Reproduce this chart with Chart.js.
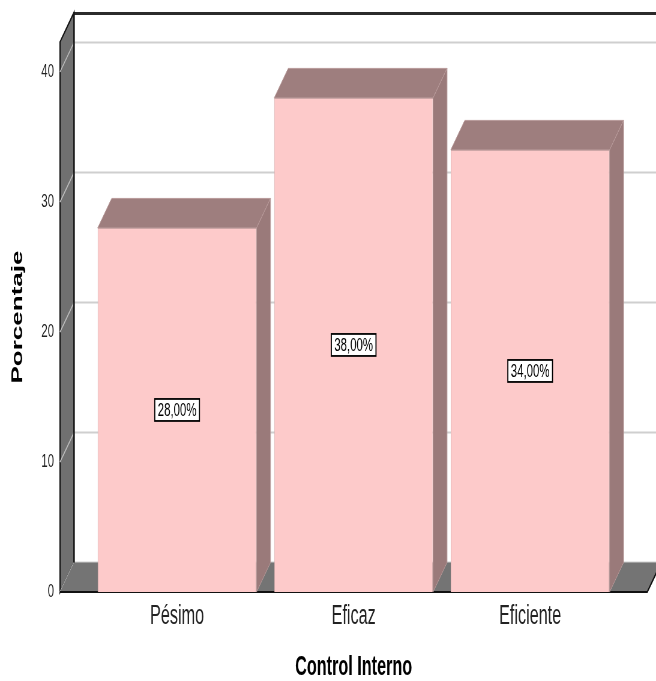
<!DOCTYPE html>
<html>
<head>
<meta charset="utf-8">
<script src="https://cdn.jsdelivr.net/npm/chart.js@4/dist/chart.umd.min.js"></script>
<style>
  html, body { margin: 0; padding: 0; background: #fff; overflow: hidden; }
  /* the chart is laid out wide and narrowed horizontally, giving its condensed look */
  #wrap { width: 1093px; height: 681px; transform: scaleX(0.60018); transform-origin: 0 0; }
</style>
</head>
<body>
<div id="wrap"><canvas id="c" width="1093" height="681"></canvas></div>
<script>
const categories = ['Pésimo', 'Eficaz', 'Eficiente'];
const percentages = [28, 38, 34];
const yTicks = [0, 10, 20, 30, 40];
const yMax = 42.3;

const FONT = "'Liberation Sans', Arial, sans-serif";
const DEPTH_X = 23.3;   // horizontal depth of the 3D extrusion
const DEPTH_Y = 29.5;   // vertical depth of the 3D extrusion
const SIDE_GAP = 48;    // distance from the category band to the wall / floor end

const fmt = v => v.toFixed(2).replace('.', ',') + '%';

const frame3d = {
  id: 'frame3d',
  beforeDatasetsDraw(chart) {
    const { ctx, chartArea: a, scales: { y } } = chart;
    const base = y.getPixelForValue(0);
    const top = y.getPixelForValue(yMax);
    const wallX = a.left - SIDE_GAP;
    const backX = wallX + DEPTH_X;
    const floorRight = a.right + SIDE_GAP;
    const W = chart.width;
    ctx.save();

    // back plane grid lines
    ctx.strokeStyle = '#cfcfcf';
    ctx.lineWidth = 2;
    yTicks.forEach(v => {
      const py = y.getPixelForValue(v) - DEPTH_Y;
      ctx.beginPath(); ctx.moveTo(backX, py); ctx.lineTo(W, py); ctx.stroke();
    });

    // top edge of the back plane
    ctx.strokeStyle = '#2b2b2b';
    ctx.lineWidth = 3;
    ctx.beginPath(); ctx.moveTo(backX, top - DEPTH_Y + 1); ctx.lineTo(W, top - DEPTH_Y + 1); ctx.stroke();

    // left wall
    ctx.beginPath();
    ctx.moveTo(wallX, top);
    ctx.lineTo(backX, top - DEPTH_Y);
    ctx.lineTo(backX, base - DEPTH_Y);
    ctx.lineTo(wallX, base);
    ctx.closePath();
    ctx.fillStyle = '#707070';
    ctx.fill();
    ctx.strokeStyle = '#111';
    ctx.lineWidth = 2;
    ctx.stroke();

    // grid lines carried across the wall
    ctx.strokeStyle = '#bdbdbd';
    ctx.lineWidth = 1.5;
    yTicks.forEach(v => {
      const py = y.getPixelForValue(v);
      ctx.beginPath(); ctx.moveTo(backX, py - DEPTH_Y); ctx.lineTo(wallX, py); ctx.stroke();
    });

    // floor
    ctx.beginPath();
    ctx.moveTo(wallX, base);
    ctx.lineTo(backX, base - DEPTH_Y);
    ctx.lineTo(floorRight + DEPTH_X, base - DEPTH_Y);
    ctx.lineTo(floorRight, base);
    ctx.closePath();
    ctx.fillStyle = '#747474';
    ctx.fill();
    ctx.strokeStyle = '#111';
    ctx.lineWidth = 2;
    ctx.beginPath();
    ctx.moveTo(wallX, base);
    ctx.lineTo(floorRight, base);
    ctx.lineTo(floorRight + DEPTH_X, base - DEPTH_Y);
    ctx.stroke();

    // back-left edge
    ctx.strokeStyle = '#1a1a1a';
    ctx.lineWidth = 2.5;
    ctx.beginPath(); ctx.moveTo(backX, top - DEPTH_Y); ctx.lineTo(backX, base - DEPTH_Y); ctx.stroke();
    ctx.restore();
  },
  afterDatasetsDraw(chart) {
    const { ctx, scales: { y } } = chart;
    const meta = chart.getDatasetMeta(0);
    ctx.save();
    meta.data.forEach((bar, i) => {
      const { x, y: yt, base, width } = bar.getProps(['x', 'y', 'base', 'width'], true);
      const xl = x - width / 2, xr = x + width / 2;
      // top face
      ctx.beginPath();
      ctx.moveTo(xl, yt);
      ctx.lineTo(xl + DEPTH_X, yt - DEPTH_Y);
      ctx.lineTo(xr + DEPTH_X, yt - DEPTH_Y);
      ctx.lineTo(xr, yt);
      ctx.closePath();
      ctx.fillStyle = '#9e7e7e';
      ctx.fill();
      ctx.strokeStyle = '#b89a9a';
      ctx.lineWidth = 1;
      ctx.stroke();
      // side face
      ctx.beginPath();
      ctx.moveTo(xr, yt);
      ctx.lineTo(xr + DEPTH_X, yt - DEPTH_Y);
      ctx.lineTo(xr + DEPTH_X, base - DEPTH_Y);
      ctx.lineTo(xr, base);
      ctx.closePath();
      ctx.fillStyle = '#9a7a7a';
      ctx.fill();
      ctx.stroke();

      // value label at mid-height
      const v = percentages[i];
      const cy = y.getPixelForValue(v / 2);
      ctx.font = '19px ' + FONT;
      const tw = ctx.measureText(fmt(v)).width;
      const bw = tw + 10, bh = 22;
      ctx.fillStyle = '#fff';
      ctx.fillRect(x - bw / 2, cy - bh / 2, bw, bh);
      ctx.strokeStyle = '#000';
      ctx.lineWidth = 1.8;
      ctx.strokeRect(x - bw / 2, cy - bh / 2, bw, bh);
      ctx.fillStyle = '#000';
      ctx.textAlign = 'center';
      ctx.textBaseline = 'middle';
      ctx.fillText(fmt(v), x, cy + 1);
    });
    ctx.restore();
  }
};

new Chart(document.getElementById('c'), {
  type: 'bar',
  data: {
    labels: categories,
    datasets: [{
      data: percentages,
      backgroundColor: '#fdcaca',
      borderColor: '#dcb0b0',
      borderWidth: 1,
      barPercentage: 0.9,
      categoryPercentage: 1
    }]
  },
  options: {
    responsive: false,
    animation: false,
    devicePixelRatio: 1,
    layout: { padding: { top: 42, right: 62.6, left: 0, bottom: 0 } },
    plugins: { legend: { display: false }, tooltip: { enabled: false } },
    scales: {
      x: {
        grid: { display: false },
        border: { display: false },
        ticks: { color: '#222', font: { family: FONT, size: 27 }, padding: 0 },
        title: {
          display: true, text: 'Control Interno', color: '#000',
          font: { family: FONT, size: 27, weight: 'bold', lineHeight: 1 },
          padding: { top: 0, bottom: 0 }
        },
        afterFit(scale) { scale.height = 89; }
      },
      y: {
        min: 0,
        max: yMax,
        // tick marks stay hidden; their length only sets the label offset from the plot
        grid: { display: false, drawTicks: true, tickLength: 58 },
        border: { display: false },
        afterBuildTicks(scale) { scale.ticks = yTicks.map(v => ({ value: v })); },
        ticks: { color: '#222', font: { family: FONT, size: 19 }, padding: 0 },
        title: {
          display: true, text: 'Porcentaje', color: '#000',
          font: { family: FONT, size: 26, weight: 'bold', lineHeight: 1.2 },
          padding: { top: 14, bottom: 0 }
        },
        afterFit(scale) { scale.width = 148; }
      }
    }
  },
  plugins: [frame3d]
});
</script>
</body>
</html>
